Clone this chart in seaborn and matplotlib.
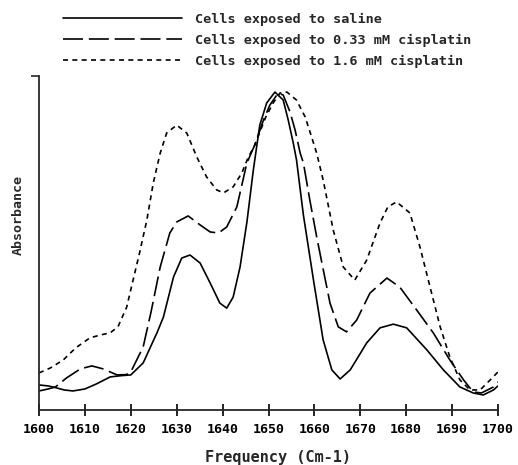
import numpy as np
import pandas as pd
import matplotlib
matplotlib.use("Agg")
import matplotlib.pyplot as plt
import seaborn as sns

# values (absorbance in arbitrary units, axis top = 1)
freq_saline = [1600.0, 1602.0, 1603.6, 1605.5, 1607.4, 1610.0, 1612.5, 1615.5, 1618.0, 1620.0,
               1622.7, 1625.7, 1627.1, 1629.3, 1631.1, 1632.9, 1635.1, 1637.3, 1639.4, 1640.9,
               1642.3, 1643.8, 1645.3, 1646.7, 1648.1, 1649.6, 1651.4, 1653.2, 1654.3, 1655.4,
               1656.1, 1657.6, 1659.8, 1661.9, 1663.8, 1665.6, 1667.8, 1671.4, 1674.3, 1677.2,
               1680.1, 1684.5, 1688.1, 1691.7, 1694.6, 1696.8, 1699.0, 1700.0]
abs_saline = [0.075, 0.072, 0.067, 0.060, 0.057, 0.063, 0.078, 0.099, 0.103, 0.105,
              0.141, 0.231, 0.278, 0.398, 0.455, 0.464, 0.440, 0.380, 0.320, 0.305,
              0.338, 0.428, 0.563, 0.719, 0.853, 0.919, 0.952, 0.928, 0.868, 0.799,
              0.749, 0.584, 0.389, 0.210, 0.120, 0.093, 0.120, 0.201, 0.246, 0.257,
              0.246, 0.180, 0.120, 0.069, 0.051, 0.045, 0.060, 0.072]

freq_low = [1600.0, 1602.0, 1603.6, 1606.0, 1609.0, 1611.5, 1614.0, 1617.0, 1619.0, 1620.0,
            1622.7, 1624.4, 1626.4, 1628.5, 1630.0, 1632.5, 1635.1, 1637.3, 1639.1, 1640.9,
            1643.1, 1645.3, 1647.0, 1648.9, 1650.3, 1652.1, 1653.2, 1654.7, 1655.8, 1656.9,
            1657.6, 1659.0, 1660.5, 1661.2, 1663.4, 1665.2, 1667.0, 1669.2, 1672.1, 1675.8,
            1678.6, 1682.3, 1685.9, 1689.5, 1692.5, 1694.6, 1696.4, 1699.0, 1700.0]
abs_low = [0.057, 0.063, 0.069, 0.096, 0.123, 0.132, 0.123, 0.105, 0.106, 0.114,
           0.189, 0.293, 0.428, 0.530, 0.563, 0.581, 0.554, 0.533, 0.530, 0.548,
           0.608, 0.740, 0.793, 0.868, 0.913, 0.949, 0.943, 0.892, 0.838, 0.769,
           0.740, 0.629, 0.518, 0.470, 0.320, 0.249, 0.234, 0.269, 0.350, 0.395,
           0.368, 0.299, 0.231, 0.150, 0.090, 0.054, 0.051, 0.069, 0.084]

freq_high = [1600.0, 1602.5, 1605.3, 1608.0, 1611.1, 1613.5, 1615.5, 1617.2, 1619.1, 1620.5,
             1621.9, 1623.5, 1624.9, 1626.4, 1627.8, 1630.0, 1632.2, 1634.4, 1636.5, 1638.7,
             1640.2, 1642.3, 1644.2, 1645.6, 1647.0, 1649.4, 1651.0, 1652.5, 1654.0, 1656.1,
             1658.0, 1659.4, 1660.5, 1661.9, 1664.1, 1666.3, 1668.8, 1671.4, 1674.3, 1676.0,
             1677.9, 1680.8, 1683.0, 1685.2, 1687.4, 1689.5, 1691.7, 1693.9, 1696.1, 1698.3,
             1700.0]
abs_high = [0.111, 0.126, 0.150, 0.186, 0.216, 0.225, 0.231, 0.249, 0.308, 0.389,
            0.470, 0.569, 0.680, 0.769, 0.829, 0.853, 0.829, 0.757, 0.698, 0.659,
            0.650, 0.668, 0.710, 0.757, 0.793, 0.877, 0.919, 0.949, 0.952, 0.928,
            0.877, 0.817, 0.769, 0.689, 0.539, 0.428, 0.389, 0.449, 0.560, 0.608,
            0.623, 0.590, 0.488, 0.368, 0.249, 0.159, 0.090, 0.060, 0.060, 0.090,
            0.114]

labels = ["Cells exposed to saline",
          "Cells exposed to 0.33 mM cisplatin",
          "Cells exposed to 1.6 mM cisplatin"]
xticks = [1600, 1610, 1620, 1630, 1640, 1650, 1660, 1670, 1680, 1690, 1700]

df = pd.concat([
    pd.DataFrame({"freq": freq_saline, "absorbance": abs_saline, "sample": labels[0]}),
    pd.DataFrame({"freq": freq_low, "absorbance": abs_low, "sample": labels[1]}),
    pd.DataFrame({"freq": freq_high, "absorbance": abs_high, "sample": labels[2]}),
])

sns.set_style("ticks")
plt.rcParams["font.family"] = ["DejaVu Sans Mono", "DejaVu Sans"]
plt.rcParams["font.weight"] = "bold"

fig = plt.figure(figsize=(5.18, 4.65), dpi=100)
ax = fig.add_axes([39 / 518, 1 - 410 / 465, 459 / 518, 334 / 465])

dash_map = {labels[0]: "", labels[1]: (12, 3.5), labels[2]: (3, 2.6)}
sns.lineplot(data=df, x="freq", y="absorbance", style="sample", style_order=labels,
             dashes=dash_map, color="black", linewidth=1.2, ax=ax, sort=True)

ax.set_xlim(1600, 1700)
ax.set_ylim(0, 1)
ax.set_xticks(xticks)
ax.set_yticks([1.0])
ax.set_yticklabels([])
ax.tick_params(axis="x", direction="inout", length=8, width=1.2, pad=5,
               labelsize=9.5, colors="black")
ax.tick_params(axis="y", direction="out", length=6, width=1.2)
for lab in ax.get_xticklabels():
    lab.set_fontweight("bold")
sns.despine(ax=ax)
ax.spines["left"].set_linewidth(1.3)
ax.spines["bottom"].set_linewidth(1.3)

ax.set_xlabel("Frequency (Cm-1)", fontsize=11, fontweight="bold", va="top")
ax.xaxis.set_label_coords((278 - 39) / 459, (410 - 450) / 334)
ax.set_ylabel("Absorbance", fontsize=9.5, fontweight="bold")
ax.yaxis.set_label_coords((25 - 39) / 459, (410 - 215) / 334)

handles, _ = ax.get_legend_handles_labels()
ax.legend(handles=handles, labels=labels, loc="upper left",
          bbox_to_anchor=(63 / 518, 1 - 13 / 465), bbox_transform=fig.transFigure,
          frameon=False, handlelength=8.8, handletextpad=1.0,
          labelspacing=0.58, borderpad=0, borderaxespad=0,
          prop={"family": "DejaVu Sans Mono", "weight": "bold", "size": 9.7})

fig.savefig("out.png", dpi=100)
